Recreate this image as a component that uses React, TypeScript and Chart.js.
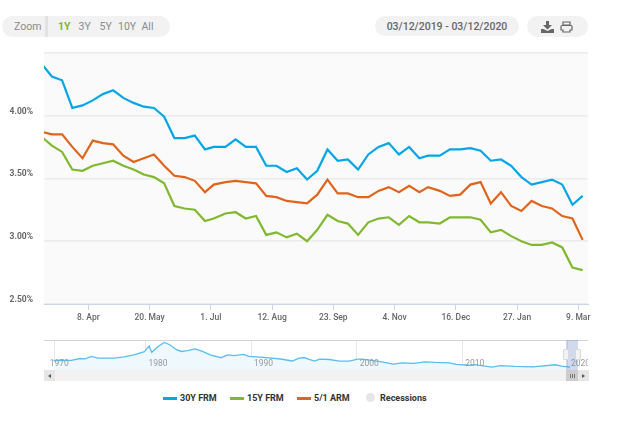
import { useEffect, useRef } from "react";
import Chart from "chart.js/auto";

const weekDates = [
  "2019-03-07", "2019-03-14", "2019-03-21", "2019-03-28", "2019-04-04", "2019-04-11", "2019-04-18", "2019-04-25",
  "2019-05-02", "2019-05-09", "2019-05-16", "2019-05-23", "2019-05-30", "2019-06-06", "2019-06-13", "2019-06-20",
  "2019-06-27", "2019-07-03", "2019-07-11", "2019-07-18", "2019-07-25", "2019-08-01", "2019-08-08", "2019-08-15",
  "2019-08-22", "2019-08-29", "2019-09-05", "2019-09-12", "2019-09-19", "2019-09-26", "2019-10-03", "2019-10-10",
  "2019-10-17", "2019-10-24", "2019-10-31", "2019-11-07", "2019-11-14", "2019-11-21", "2019-11-27", "2019-12-05",
  "2019-12-12", "2019-12-19", "2019-12-26", "2020-01-02", "2020-01-09", "2020-01-16", "2020-01-23", "2020-01-30",
  "2020-02-06", "2020-02-13", "2020-02-20", "2020-02-27", "2020-03-05", "2020-03-12",
];

const frm30 = [
  4.41, 4.31, 4.28, 4.06, 4.08, 4.12, 4.17, 4.2, 4.14, 4.1, 4.07, 4.06, 3.99, 3.82, 3.82, 3.84, 3.73, 3.75,
  3.75, 3.81, 3.75, 3.75, 3.6, 3.6, 3.55, 3.58, 3.49, 3.56, 3.73, 3.64, 3.65, 3.57, 3.69, 3.75, 3.78, 3.69,
  3.75, 3.66, 3.68, 3.68, 3.73, 3.73, 3.74, 3.72, 3.64, 3.65, 3.6, 3.51, 3.45, 3.47, 3.49, 3.45, 3.29, 3.36,
];

const frm15 = [
  3.83, 3.76, 3.71, 3.57, 3.56, 3.6, 3.62, 3.64, 3.6, 3.57, 3.53, 3.51, 3.46, 3.28, 3.26, 3.25, 3.16, 3.18,
  3.22, 3.23, 3.18, 3.2, 3.05, 3.07, 3.03, 3.06, 3.0, 3.09, 3.21, 3.16, 3.14, 3.05, 3.15, 3.18, 3.19, 3.13,
  3.2, 3.15, 3.15, 3.14, 3.19, 3.19, 3.19, 3.17, 3.07, 3.09, 3.04, 3.0, 2.97, 2.97, 2.99, 2.95, 2.79, 2.77,
];

const arm51 = [
  3.87, 3.85, 3.85, 3.75, 3.66, 3.8, 3.78, 3.77, 3.68, 3.63, 3.66, 3.69, 3.6, 3.52, 3.51, 3.48, 3.39, 3.45,
  3.47, 3.48, 3.47, 3.46, 3.36, 3.35, 3.32, 3.31, 3.3, 3.37, 3.49, 3.38, 3.38, 3.35, 3.35, 3.4, 3.43, 3.39,
  3.44, 3.39, 3.43, 3.4, 3.36, 3.37, 3.45, 3.47, 3.3, 3.39, 3.28, 3.24, 3.32, 3.28, 3.26, 3.2, 3.18, 3.01,
];

const xTickDates = [
  "2019-04-08", "2019-05-20", "2019-07-01", "2019-08-12", "2019-09-23", "2019-11-04", "2019-12-16", "2020-01-27", "2020-03-09",
];
const xTickLabels = ["8. Apr", "20. May", "1. Jul", "12. Aug", "23. Sep", "4. Nov", "16. Dec", "27. Jan", "9. Mar"];
const yTicks = [2.5, 3, 3.5, 4, 4.5];

// navigator: 30Y rate over the whole history
const navYears = [
  1971.3, 1972.0, 1973.0, 1973.8, 1974.3, 1974.9, 1975.5, 1976.2, 1977.0, 1978.0, 1979.0, 1979.9, 1980.35, 1980.6,
  1981.2, 1981.8, 1982.3, 1982.95, 1983.4, 1984.0, 1984.7, 1985.4, 1986.2, 1987.15, 1987.8, 1988.4, 1989.3, 1989.8,
  1991.2, 1992.8, 1993.9, 1994.5, 1995.0, 1996.0, 1996.5, 1997.4, 1998.4, 1999.3, 2000.1, 2000.5, 2002.1, 2003.5,
  2004.3, 2005.4, 2006.5, 2007.4, 2008.8, 2009.4, 2010.7, 2011.2, 2012.8, 2013.6, 2015.0, 2016.7, 2018.8, 2019.4, 2020.2,
];
const navRates = [
  7.3, 7.4, 7.5, 8.6, 8.4, 9.9, 8.9, 8.8, 8.8, 9.6, 11, 12.8, 16.3, 12.4,
  15.9, 18.4, 17, 14, 12.9, 13.4, 14.5, 12.9, 10.7, 9.1, 10.8, 10.4, 11.1, 9.9,
  9.3, 8.3, 7.1, 8.7, 9.2, 7, 8.2, 8, 7, 7, 8.2, 8.2, 6.8, 5.2,
  5.9, 5.6, 6.6, 6.2, 6, 5, 4.5, 4.9, 3.4, 4.3, 3.8, 3.5, 4.8, 3.9, 3.3,
];
const navTicks = [1970.65, 1971.36, 1980, 1990, 2000, 2010, 2020];
const navTickLabels = ["1970", "", "1980", "1990", "2000", "2010", "2020"];

const toTime = (d: string) => Date.parse(d + "T00:00:00Z");

const plotBackground = {
  id: "plotBackground",
  beforeDraw(chart: Chart) {
    const { ctx, chartArea } = chart;
    ctx.save();
    ctx.fillStyle = "#fafafa";
    ctx.fillRect(chartArea.left, chartArea.top, chartArea.width, chartArea.height);
    ctx.restore();
  },
};

const fontFamily = "Roboto, sans-serif";

export default function App() {
  const mainRef = useRef<HTMLCanvasElement | null>(null);
  const navRef = useRef<HTMLCanvasElement | null>(null);

  useEffect(() => {
    if (!mainRef.current || !navRef.current) return;

    const makeSeries = (label: string, values: number[], color: string) => ({
      label,
      data: values.map((y, i) => ({ x: toTime(weekDates[i]), y })),
      borderColor: color,
      backgroundColor: color,
      borderWidth: 2.2,
      pointRadius: 0,
      tension: 0,
    });

    const main = new Chart(mainRef.current, {
      type: "line",
      data: {
        datasets: [
          makeSeries("30Y FRM", frm30, "#06a6e6"),
          makeSeries("15Y FRM", frm15, "#80b82f"),
          makeSeries("5/1 ARM", arm51, "#df651c"),
        ],
      },
      options: {
        responsive: false,
        animation: false,
        layout: { padding: { top: 52, right: 52, left: 0, bottom: 0 } },
        plugins: { legend: { display: false }, tooltip: { enabled: false } },
        scales: {
          x: {
            type: "linear",
            min: Date.UTC(2019, 2, 8, 14),
            max: Date.UTC(2020, 2, 15, 16),
            afterBuildTicks: (axis: any) => {
              axis.ticks = xTickDates.map((d) => ({ value: toTime(d) }));
            },
            afterFit: (axis: any) => {
              axis.height = 26;
            },
            border: { color: "#ccd6eb", width: 1 },
            grid: { drawOnChartArea: false, tickColor: "#ccd6eb", tickLength: 6 },
            ticks: {
              autoSkip: false,
              maxRotation: 0,
              padding: 3,
              color: "#666666",
              font: { family: fontFamily, size: 8.5, weight: 500 },
              callback: (_v: any, i: number) => xTickLabels[i],
            },
          },
          y: {
            min: 2.5,
            max: 4.505,
            afterBuildTicks: (axis: any) => {
              axis.ticks = yTicks.map((value) => ({ value }));
            },
            afterFit: (axis: any) => {
              axis.width = 44;
            },
            border: { display: false },
            grid: { color: "#ececec", lineWidth: 1.5, tickLength: 0 },
            ticks: {
              padding: 11,
              labelOffset: -4,
              color: "#666666",
              font: { family: fontFamily, size: 8.5, weight: 700 },
              callback: (v: any) => (v === 4.5 ? "" : Number(v).toFixed(2) + "%"),
            },
          },
        },
      },
      plugins: [plotBackground],
    });

    const nav = new Chart(navRef.current, {
      type: "line",
      data: {
        datasets: [
          {
            label: "30Y FRM",
            data: navRates.map((y, i) => ({ x: navYears[i], y })),
            borderColor: "#55c0ef",
            backgroundColor: "#eff8fd",
            borderWidth: 1.3,
            pointRadius: 0,
            tension: 0,
            fill: "start",
          },
        ],
      },
      options: {
        responsive: false,
        animation: false,
        layout: { padding: 0 },
        plugins: { legend: { display: false }, tooltip: { enabled: false } },
        scales: {
          x: {
            type: "linear",
            min: 1970.4,
            max: 2021.2,
            afterBuildTicks: (axis: any) => {
              axis.ticks = navTicks.map((value) => ({ value }));
            },
            afterFit: (axis: any) => {
              axis.height = 0;
            },
            border: { display: false },
            grid: {
              drawTicks: false,
              color: (ctx: any) => (ctx.index === 0 ? "rgba(0,0,0,0)" : "#e6e6e6"),
            },
            ticks: {
              z: 1,
              autoSkip: false,
              maxRotation: 0,
              align: "start",
              labelOffset: 3,
              // mirror keeps the labels from being clipped to the zero-height axis
              mirror: true,
              padding: 1,
              color: "#999999",
              font: { family: fontFamily, size: 8.5 },
              callback: (_v: any, i: number) => navTickLabels[i],
            },
          },
          y: { display: false, min: 1.6, max: 19.9 },
        },
      },
    });

    return () => {
      main.destroy();
      nav.destroy();
    };
  }, []);

  return (
    <div style={{ position: "absolute", left: 0, top: 0, width: 640, height: 424, background: "#fff", overflow: "hidden", fontFamily }}>
      {/* Toolbar */}
      <div style={{ ...pill, left: 2, width: 168 }} />
      <span style={{ ...label, left: 14, top: 20, color: "#8a8a8a", fontSize: 10.5 }}>Zoom</span>
      <div style={{ position: "absolute", left: 45, top: 16, width: 3, height: 21, background: "#e2e2e2" }} />
      <span style={{ ...label, left: 58, top: 20, color: "#7fb62f", fontWeight: 700, fontSize: 10.5 }}>1Y</span>
      <span style={{ ...label, left: 78.5, top: 20, color: "#8a8a8a", fontSize: 10.5 }}>3Y</span>
      <span style={{ ...label, left: 99.5, top: 20, color: "#8a8a8a", fontSize: 10.5 }}>5Y</span>
      <span style={{ ...label, left: 118, top: 20, color: "#8a8a8a", fontSize: 10.5 }}>10Y</span>
      <span style={{ ...label, left: 141.5, top: 20, color: "#8a8a8a", fontSize: 10.5 }}>All</span>

      <div style={{ ...pill, left: 375, width: 144, height: 20 }} />
      <span style={{ ...label, left: 375, width: 144, textAlign: "center", top: 20, color: "#666", fontSize: 10.5, fontWeight: 500 }}>
        03/12/2019 - 03/12/2020
      </span>

      <div style={{ ...pill, left: 527, width: 61 }} />
      <svg style={{ position: "absolute", left: 541, top: 21 }} width="33" height="12" viewBox="0 0 33 12">
        <path d="M5 0h3v4h3l-4.500 4.500L2 4h3z M0 8h2.500l4 2 4-2H13v4H0z" fill="#666" />
        <path d="M22 1h7v3h-7z M21 4.500h9a1 1 0 0 1 1 1V9h-2v2h-7V9h-2V5.500a1 1 0 0 1 1-1z" fill="none" stroke="#666" strokeWidth="1.2" />
      </svg>

      <canvas ref={mainRef} width={640} height={330} style={{ position: "absolute", left: 0, top: 0 }} />

      {/* Navigator */}
      <canvas ref={navRef} width={544} height={30} style={{ position: "absolute", left: 44, top: 340 }} />
      <div style={{ position: "absolute", left: 44, top: 340, width: 544, height: 1, background: "#d4d4d4" }} />
      <div style={{ position: "absolute", left: 566, top: 340, width: 11.5, height: 30, background: "rgba(102,133,194,0.3)" }} />
      <div style={{ ...handle, left: 563 }} />
      <div style={{ ...handle, left: 574.5 }} />

      {/* Scrollbar */}
      <div style={{ position: "absolute", left: 44, top: 370, width: 544, height: 11, background: "#f2f2f2" }} />
      <div style={{ ...scrollButton, left: 44 }}>
        <div style={{ width: 0, height: 0, borderTop: "2.5px solid transparent", borderBottom: "2.5px solid transparent", borderRight: "3px solid #555" }} />
      </div>
      <div style={{ ...scrollButton, left: 578 }}>
        <div style={{ width: 0, height: 0, borderTop: "2.5px solid transparent", borderBottom: "2.5px solid transparent", borderLeft: "3px solid #555" }} />
      </div>
      <div style={{ position: "absolute", left: 566, top: 370, width: 12, height: 11, background: "#cccccc", display: "flex", alignItems: "center", justifyContent: "center", gap: 1 }}>
        <div style={grip} />
        <div style={grip} />
        <div style={grip} />
      </div>

      {/* Legend */}
      <LegendLine left={163} color="#06a6e6" />
      <span style={{ ...legendText, left: 180 }}>30Y FRM</span>
      <LegendLine left={230} color="#80b82f" />
      <span style={{ ...legendText, left: 247 }}>15Y FRM</span>
      <LegendLine left={297} color="#df651c" />
      <span style={{ ...legendText, left: 314 }}>5/1 ARM</span>
      <div style={{ position: "absolute", left: 366, top: 393, width: 9, height: 9, borderRadius: "50%", background: "#e6e6e6" }} />
      <span style={{ ...legendText, left: 380 }}>Recessions</span>
    </div>
  );
}

function LegendLine({ left, color }: { left: number; color: string }) {
  return <div style={{ position: "absolute", left, top: 397, width: 14, height: 2.5, background: color }} />;
}

const pill: React.CSSProperties = { position: "absolute", top: 16, height: 21, borderRadius: 11, background: "#f2f2f2" };
const label: React.CSSProperties = { position: "absolute", lineHeight: "13px", whiteSpace: "nowrap" };
const legendText: React.CSSProperties = { position: "absolute", top: 392, lineHeight: "12px", fontSize: 9, fontWeight: 700, color: "#333", whiteSpace: "nowrap" };
const handle: React.CSSProperties = { position: "absolute", top: 349, width: 6, height: 11, boxSizing: "border-box", background: "#f2f2f2", border: "1px solid #d8d8d8", borderRadius: 1 };
const scrollButton: React.CSSProperties = { position: "absolute", top: 370, width: 11, height: 11, background: "#e6e6e6", display: "flex", alignItems: "center", justifyContent: "center" };
const grip: React.CSSProperties = { width: 1, height: 4, background: "#777" };
